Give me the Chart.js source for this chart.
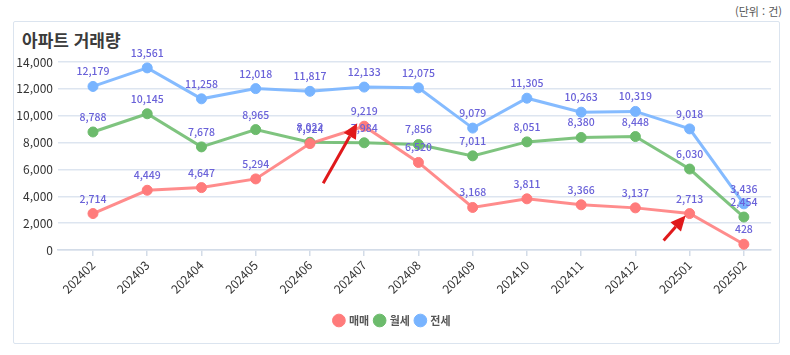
<!DOCTYPE html>
<html lang="ko">
<head>
<meta charset="utf-8">
<script src="https://cdn.jsdelivr.net/npm/chart.js@4/dist/chart.umd.min.js"></script>
<style>
  html, body { margin: 0; padding: 0; background: #ffffff; }
  body { width: 790px; height: 355px; position: relative; overflow: hidden;
         font-family: 'Noto Sans CJK KR', 'Noto Sans', sans-serif; }
  #box { position: absolute; left: 13px; top: 21px; width: 767px; height: 323px;
         border: 1.5px solid #dbe4ef; border-radius: 2px; box-sizing: border-box; }
  #unit { position: absolute; right: 8px; top: 3px; font-size: 11px; color: #555; }
  #title { position: absolute; left: 22px; top: 27px; font-size: 17px; font-weight: bold; color: #3b3b3b; }
  #wrap { position: absolute; left: 0; top: 0; width: 790px; height: 355px; }
</style>
</head>
<body>
<div id="unit">(단위 : 건)</div>
<div id="box"></div>
<div id="title">아파트 거래량</div>
<div id="wrap"><canvas id="c" width="790" height="355"></canvas></div>
<script>
// ---- data ----
const categories = ['202402','202403','202404','202405','202406','202407','202408','202409','202410','202411','202412','202501','202502'];
const seriesNames = ['매매', '월세', '전세'];
const sale    = [2714, 4449, 4647, 5294, 7924, 9219, 6520, 3168, 3811, 3366, 3137, 2713, 428];
const monthly = [8788, 10145, 7678, 8965, 8022, 7984, 7856, 7011, 8051, 8380, 8448, 6030, 2454];
const jeonse  = [12179, 13561, 11258, 12018, 11817, 12133, 12075, 9079, 11305, 10263, 10319, 9018, 3436];
const yTicks  = [0, 2000, 4000, 6000, 8000, 10000, 12000, 14000];

const FONT = "'Noto Sans CJK KR', 'Noto Sans', sans-serif";
const toPts = arr => arr.map((v, i) => ({ x: i, y: v }));

const labelPlugin = {
  id: 'valueLabels',
  afterDatasetsDraw(chart) {
    const ctx = chart.ctx;
    ctx.save();
    ctx.font = '500 10.5px ' + FONT;
    ctx.fillStyle = '#6a62d9';
    ctx.textAlign = 'center';
    ctx.textBaseline = 'middle';
    chart.data.datasets.forEach((ds, di) => {
      const meta = chart.getDatasetMeta(di);
      meta.data.forEach((pt, i) => {
        ctx.fillText(ds.data[i].y.toLocaleString('en-US'), pt.x, pt.y - 15);
      });
    });
    ctx.restore();
  }
};

// red annotation arrows pointing at 매매 points (202407 and 202501)
const arrowPlugin = {
  id: 'arrows',
  afterDraw(chart) {
    const xs = chart.scales.x, ys = chart.scales.y, ctx = chart.ctx;
    const drawArrow = (tx, ty, fx, fy) => {
      const ang = Math.atan2(ty - fy, tx - fx);
      const hl = 15, hw = 7;
      const bx = tx - hl * Math.cos(ang), by = ty - hl * Math.sin(ang);
      ctx.save();
      ctx.strokeStyle = '#e0191b';
      ctx.fillStyle = '#e0191b';
      ctx.lineWidth = 3;
      ctx.beginPath();
      ctx.moveTo(fx, fy);
      ctx.lineTo(bx, by);
      ctx.stroke();
      ctx.beginPath();
      ctx.moveTo(tx, ty);
      ctx.lineTo(bx + hw * Math.sin(ang), by - hw * Math.cos(ang));
      ctx.lineTo(bx - hw * Math.sin(ang), by + hw * Math.cos(ang));
      ctx.closePath();
      ctx.fill();
      ctx.restore();
    };
    const p1x = xs.getPixelForValue(5), p1y = ys.getPixelForValue(sale[5]);
    drawArrow(p1x - 7, p1y - 3, p1x - 41, p1y + 57);
    const p2x = xs.getPixelForValue(11), p2y = ys.getPixelForValue(sale[11]);
    drawArrow(p2x - 4, p2y + 2, p2x - 26, p2y + 27);
  }
};

new Chart(document.getElementById('c'), {
  type: 'line',
  data: {
    datasets: [
      { label: seriesNames[0], data: toPts(sale), borderColor: 'rgba(255,120,120,0.85)', backgroundColor: '#ff7b7b',
        pointBackgroundColor: '#ff7b7b', pointBorderColor: '#ff7b7b' },
      { label: seriesNames[1], data: toPts(monthly), borderColor: 'rgba(104,186,104,0.85)', backgroundColor: '#6cbb6c',
        pointBackgroundColor: '#6cbb6c', pointBorderColor: '#6cbb6c' },
      { label: seriesNames[2], data: toPts(jeonse), borderColor: 'rgba(120,180,255,0.9)', backgroundColor: '#78b4ff',
        pointBackgroundColor: '#78b4ff', pointBorderColor: '#78b4ff' }
    ]
  },
  options: {
    responsive: false,
    animation: false,
    devicePixelRatio: 1,
    elements: {
      line: { borderWidth: 3, tension: 0 },
      point: { radius: 5, hoverRadius: 5, borderWidth: 1 }
    },
    layout: { padding: { top: 62, right: 19, bottom: 19, left: 14 } },
    scales: {
      x: {
        type: 'linear',
        min: -0.645,
        max: 12.5,
        afterBuildTicks: s => { s.ticks = categories.map((_, i) => ({ value: i })); },
        afterFit: s => { s.height = 59; },
        ticks: {
          callback: v => categories[v],
          maxRotation: 45, minRotation: 45,
          autoSkip: false,
          padding: 2,
          color: '#333',
          font: { family: FONT, size: 12 }
        },
        grid: { drawOnChartArea: false, drawTicks: true, tickLength: 6, color: '#d3dce8', lineWidth: 1.5 },
        border: { display: true, color: '#d3dce8', width: 1.5 }
      },
      y: {
        min: 0, max: 14000,
        afterBuildTicks: s => { s.ticks = yTicks.map(v => ({ value: v })); },
        afterFit: s => { s.width = 44; },
        ticks: {
          callback: v => v.toLocaleString('en-US'),
          padding: 5,
          color: '#333',
          font: { family: FONT, size: 12 }
        },
        grid: { drawTicks: false, color: '#dde5f0', lineWidth: 1.5 },
        border: { display: false }
      }
    },
    plugins: {
      legend: {
        position: 'bottom',
        labels: {
          usePointStyle: true, pointStyle: 'circle', boxWidth: 9, boxHeight: 9,
          padding: 6, color: '#555',
          font: { family: FONT, size: 11, weight: 'bold' }
        }
      },
      title: { display: false },
      tooltip: { enabled: false }
    }
  },
  plugins: [labelPlugin, arrowPlugin]
});
</script>
</body>
</html>
